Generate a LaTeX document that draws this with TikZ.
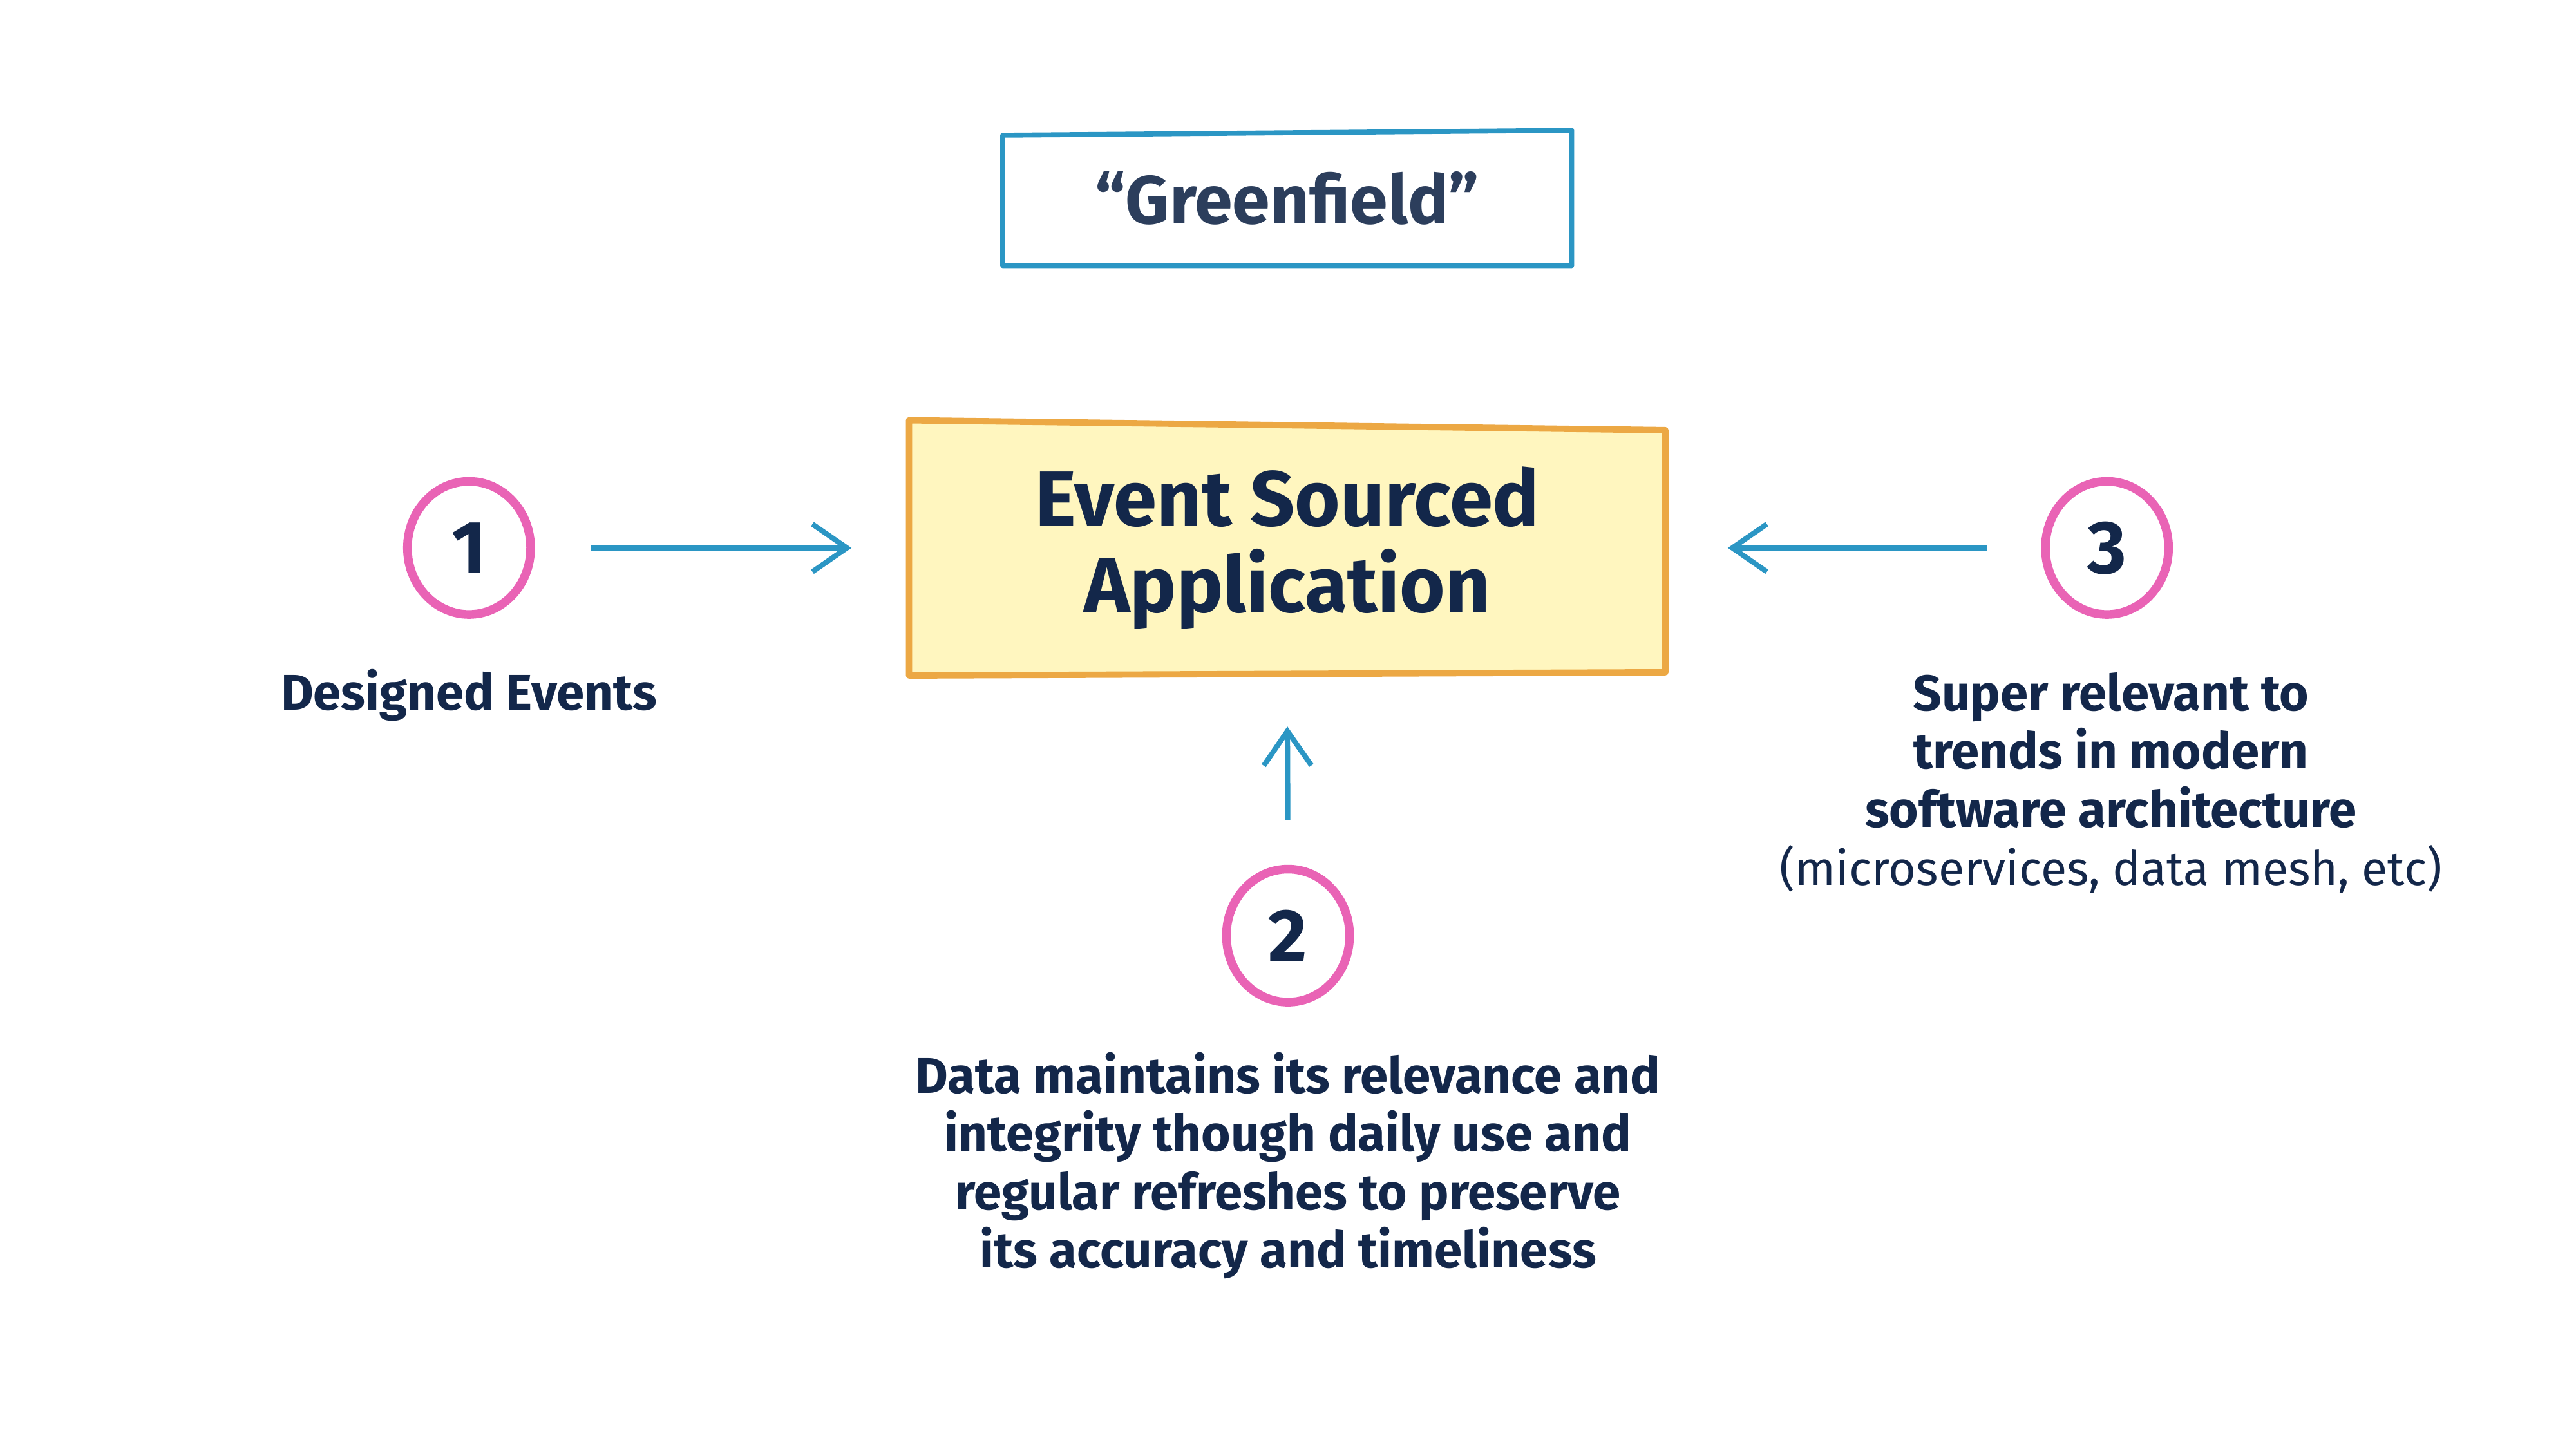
\documentclass[tikz,border=0pt]{standalone}
\usepackage{fontspec}
\setmainfont{Fira Sans}
\usetikzlibrary{arrows.meta,positioning,backgrounds,shapes.geometric}

\definecolor{inkblue}{HTML}{13274A}
\definecolor{titleink}{HTML}{2C3E5C}
\definecolor{lineblue}{HTML}{2B96C4}
\definecolor{markpink}{HTML}{E963B5}
\definecolor{appfill}{HTML}{FFF6BF}
\definecolor{appedge}{HTML}{ECA844}

\begin{document}
\begin{tikzpicture}[x=0.1mm, y=-0.1mm,
  numring/.style={ellipse, draw=markpink, line width=1.5pt, minimum width=7.5mm, minimum height=8.1mm, inner sep=0pt, text=inkblue, font=\fontsize{13}{13}\selectfont\bfseries},
  note/.style={align=center, text=inkblue, font=\fontsize{8.7}{10.1}\selectfont\bfseries},
  flow/.style={draw=lineblue, line width=0.9pt, -{Straight Barb[length=2.1mm, width=2.9mm]}}]
  \useasboundingbox (0,0) rectangle (1568,882);

  % title and centre box
  \node[minimum width=34.5mm, minimum height=8.1mm, text=titleink, font=\fontsize{11.8}{11.8}\selectfont\bfseries] (title) at (783.5,120.5) {“Greenfield”};
  \node[minimum width=45.9mm, minimum height=15.4mm, align=center, text=inkblue, font=\fontsize{13.5}{15}\selectfont\bfseries] (app) at (783.5,333.5) {Event Sourced\\Application};
  \begin{scope}[on background layer]
    \draw[draw=lineblue, line width=0.85pt, line join=round] ([yshift=-0.3mm]title.north west) -- (title.north east) -- (title.south east) -- (title.south west) -- cycle;
    \filldraw[fill=appfill, draw=appedge, line width=1.1pt, line join=round] (app.north west) -- ([yshift=-0.6mm]app.north east) -- ([yshift=0.2mm]app.south east) -- (app.south west) -- cycle;
  \end{scope}

  % numbered points
  \node[numring] (one) at (285.5,333.5) {1};
  \node[numring] (two) at (784,569.5) {2};
  \node[numring] (three) at (1282.5,333.5) {3};

  \node[note] (oneText) at (285.5,423) {Designed Events};
  \node[note] (twoText) at (784,709.5) {Data maintains its relevance and\\integrity though daily use and\\regular refreshes to preserve\\its accuracy and timeliness};
  \node[note] (threeText) at (1285,476.5) {Super relevant to\\trends in modern\\software architecture\\{\mdseries\fontsize{8.2}{10.1}\selectfont (microservices, data mesh, etc)}};

  % arrows into the app
  \draw[flow, shorten <=3.4mm, shorten >=3.5mm] (one.east) -- (app.west);
  \draw[flow, shorten <=2.7mm, shorten >=3.1mm] (two.north) -- (app.south);
  \draw[flow, shorten <=3.3mm, shorten >=3.8mm] (three.west) -- (app.east);
\end{tikzpicture}
\end{document}
